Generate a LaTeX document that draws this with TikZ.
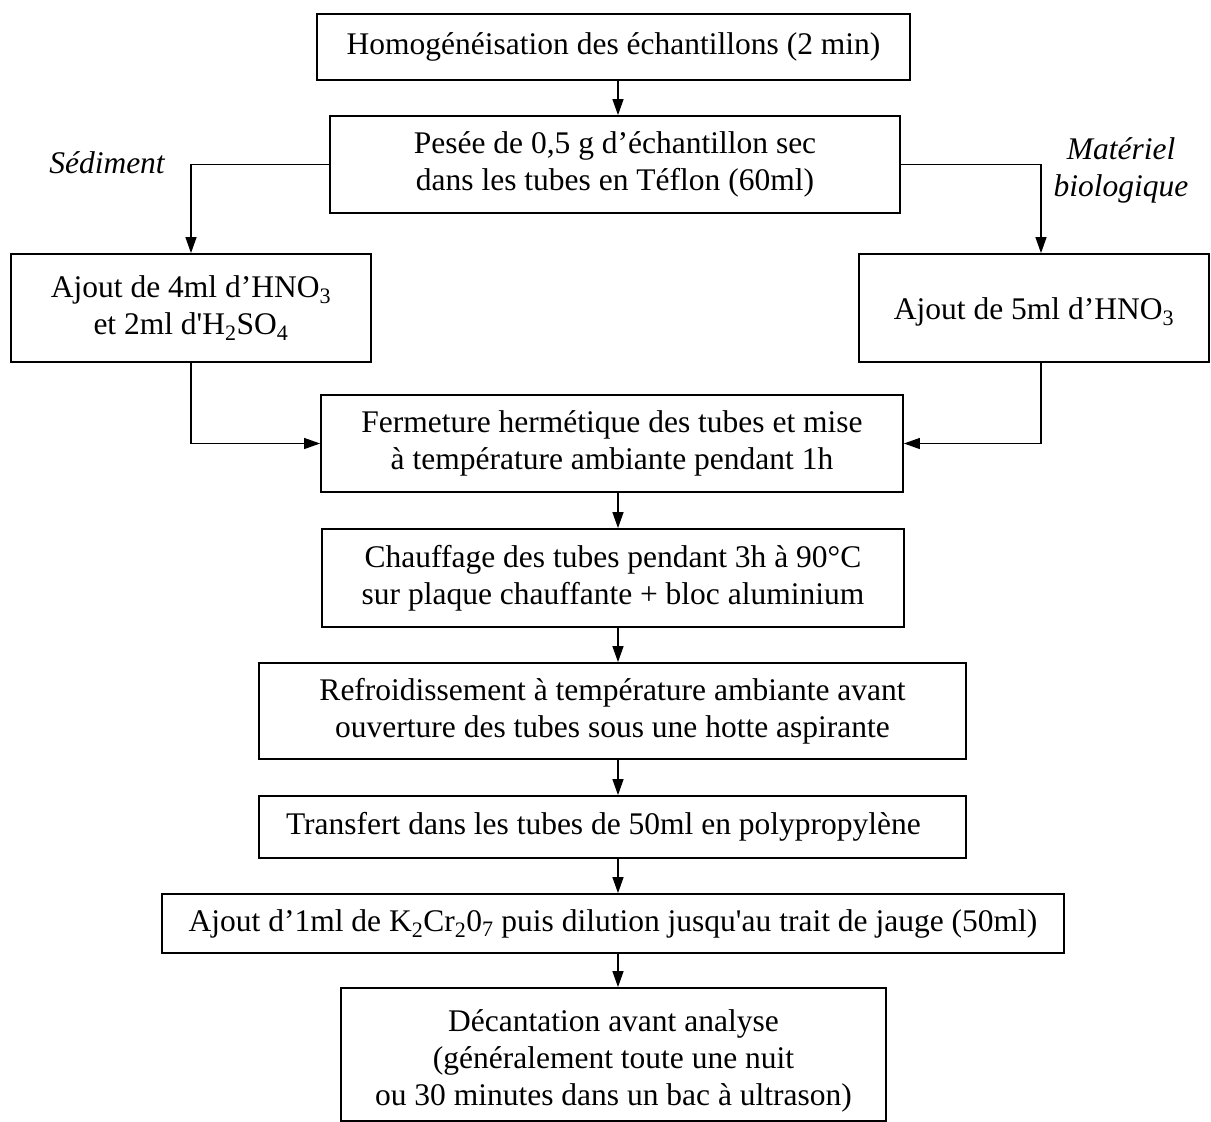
\documentclass[tikz,border=0pt]{standalone}
\usepackage{fontspec}
\setmainfont{Liberation Serif}[Ligatures=TeXOff]
\usetikzlibrary{arrows.meta}
\begin{document}
\begin{tikzpicture}[x=1pt,y=-1pt,
  box/.style={draw, line width=1.8pt, align=center, inner sep=0pt, font=\fontsize{31.5}{37}\selectfont},
  conn/.style={line width=1.3pt, -{Triangle[length=16pt,width=11pt]}},
  lbl/.style={align=center, inner sep=0pt, font=\fontsize{31.5}{37}\selectfont\itshape}]
\useasboundingbox (0,0) rectangle (1211,1122);
\coordinate (ax) at (618,0);
\coordinate (rx) at (1041,0);
\node[box, minimum width=593pt, minimum height=66pt] (b1) at (613.5,47) {Homogénéisation des échantillons (2 min)};
\node[box, minimum width=570pt, minimum height=97pt] (b2) at (615,164.5) {Pesée de 0,5 g d’échantillon sec\\dans les tubes en Téflon (60ml)};
\node[box, minimum width=360pt, minimum height=108pt] (bl) at (191,308) {Ajout de 4ml d’HNO\textsubscript{3}\\et 2ml d'H\textsubscript{2}SO\textsubscript{4}};
\node[box, minimum width=350pt, minimum height=108pt] (br) at (1034,308) {\rule{0pt}{30pt}Ajout de 5ml d’HNO\textsubscript{3}};
\node[box, minimum width=582pt, minimum height=97pt] (b3) at (612,443.5) {Fermeture hermétique des tubes et mise\\à température ambiante pendant 1h};
\node[box, minimum width=582pt, minimum height=98pt] (b4) at (613,578) {Chauffage des tubes pendant 3h à 90°C\\sur plaque chauffante + bloc aluminium};
\node[box, minimum width=707pt, minimum height=96pt] (b5) at (612.5,711) {Refroidissement à température ambiante avant\\ouverture des tubes sous une hotte aspirante};
\node[box, minimum width=707pt, minimum height=62pt] (b6) at (612.5,827) {Transfert dans les tubes de 50ml en polypropylène\hspace*{18pt}};
\node[box, minimum width=902pt, minimum height=59pt] (b7) at (613,923.5) {Ajout d’1ml de K\textsubscript{2}Cr\textsubscript{2}0\textsubscript{7} puis dilution jusqu'au trait de jauge (50ml)};
\node[box, minimum width=545pt, minimum height=133pt] (b8) at (613.5,1054.5) {\rule{0pt}{34pt}Décantation avant analyse\\(généralement toute une nuit\\ou 30 minutes dans un bac à ultrason)};
\node[lbl] (sed) at (107,163) {Sédiment};
\node[lbl] (mat) at (1121,170) {Matériel\\biologique};
\draw[conn] (b1.south -| ax) -- (b2.north -| ax);
\draw[conn] (b2.west) -| (bl.north);
\draw[conn] (b2.east) -| (br.north -| rx);
\draw[conn] (bl.south) |- (b3.west);
\draw[conn] (br.south -| rx) |- (b3.east);
\draw[conn] (b3.south -| ax) -- (b4.north -| ax);
\draw[conn] (b4.south -| ax) -- (b5.north -| ax);
\draw[conn] (b5.south -| ax) -- (b6.north -| ax);
\draw[conn] (b6.south -| ax) -- (b7.north -| ax);
\draw[conn] (b7.south -| ax) -- (b8.north -| ax);
\end{tikzpicture}
\end{document}
